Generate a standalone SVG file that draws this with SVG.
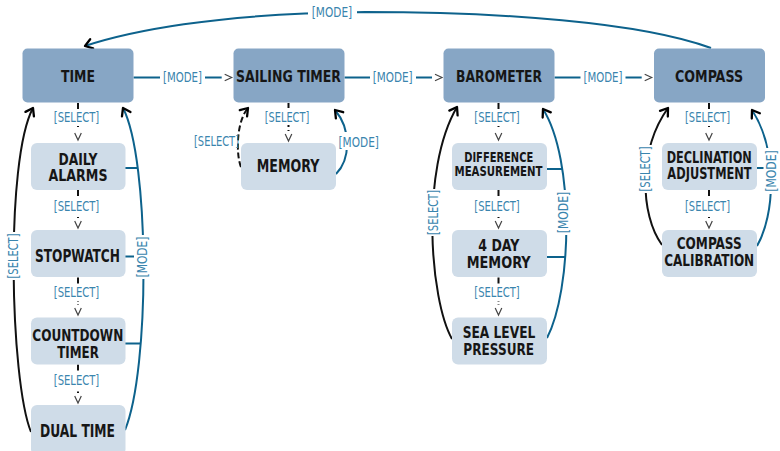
<svg xmlns="http://www.w3.org/2000/svg" width="780" height="451" viewBox="0 0 780 451">
<defs>
<style>
.main{fill:#87a6c5}
.sub{fill:#cfdce8}
.nt{font-family:"Liberation Sans Narrow","DejaVu Sans Condensed","DejaVu Sans",sans-serif;font-weight:bold;fill:#161616;text-anchor:middle}
.lb{font-family:"Liberation Sans Narrow","DejaVu Sans Condensed","DejaVu Sans",sans-serif;font-size:14.5px;fill:#3a85ae;text-anchor:middle}
.bg{fill:#ffffff}
.mode{stroke:#0d628c;stroke-width:2;fill:none}
.sel{stroke:#111111;stroke-width:2;fill:none}
.dash{stroke-dasharray:6 3}
</style>
<marker id="chev" markerUnits="userSpaceOnUse" markerWidth="16" markerHeight="12" viewBox="-6 -6 16 12" refX="-3" refY="0" orient="auto" overflow="visible">
<path d="M0,-3.3 L7,0 L0,3.3" fill="none" stroke="#444" stroke-width="1.2"/>
</marker>
<marker id="arr" markerUnits="userSpaceOnUse" markerWidth="16" markerHeight="16" viewBox="-10 -8 16 16" refX="0" refY="0" orient="auto" overflow="visible">
<path d="M-7,-4.8 L0,0 L-7,4.8" fill="none" stroke="#000" stroke-width="2.3" stroke-linecap="round" stroke-linejoin="round"/>
</marker>
</defs>

<g id="connectors">
<path class="mode" d="M711,48 C640,22 500,12 365,12 L305,13.5 C220,17 140,28 85,46" marker-end="url(#arr)"/>
<path class="mode" d="M133.5,77.5 H221.7" marker-end="url(#chev)"/>
<path class="mode" d="M344.5,77.5 H432" marker-end="url(#chev)"/>
<path class="mode" d="M554.5,77.5 H641.7" marker-end="url(#chev)"/>
<path class="sel dash" d="M78,103 V130" marker-end="url(#chev)"/>
<path class="sel dash" d="M78,190 V218" marker-end="url(#chev)"/>
<path class="sel dash" d="M78,277.5 V305" marker-end="url(#chev)"/>
<path class="sel dash" d="M78,364.5 V393" marker-end="url(#chev)"/>
<path class="sel dash" d="M288.5,103 V131" marker-end="url(#chev)"/>
<path class="sel dash" d="M498.5,103 V130" marker-end="url(#chev)"/>
<path class="sel dash" d="M498.5,190 V218" marker-end="url(#chev)"/>
<path class="sel dash" d="M498.5,277.5 V305" marker-end="url(#chev)"/>
<path class="sel dash" d="M709,103 V130" marker-end="url(#chev)"/>
<path class="sel dash" d="M709,190 V218" marker-end="url(#chev)"/>
<path class="sel" d="M31,432 C10,380 5,160 33,108" marker-end="url(#arr)"/>
<path class="mode" d="M125,430 C150,370 150,160 123,108" marker-end="url(#arr)"/>
<path class="mode" d="M125,168 H137.5"/>
<path class="mode" d="M125,256.5 H141"/>
<path class="mode" d="M125,343.5 H140.5"/>
<path class="sel dash" d="M241,167 C236,155 236,122 248,108" marker-end="url(#arr)"/>
<path class="mode" d="M336,174 C350,160 352,130 335,110" marker-end="url(#arr)"/>
<path class="sel" d="M452,339 C430,300 420,170 457,107" marker-end="url(#arr)"/>
<path class="mode" d="M547,338 C572,290 575,160 543,109" marker-end="url(#arr)"/>
<path class="mode" d="M547,169 H562"/>
<path class="mode" d="M547,257 H565"/>
<path class="sel" d="M662,245 C640,215 638,150 668,108" marker-end="url(#arr)"/>
<path class="mode" d="M757,246 C775,215 778,150 752,110" marker-end="url(#arr)"/>
<path class="mode" d="M757,168 H767"/>

<rect class="bg" x="308" y="3" width="49" height="18"/>
<text class="lb" x="332" y="17" textLength="40.5" lengthAdjust="spacingAndGlyphs">[MODE]</text>
<rect class="bg" x="160" y="68" width="45" height="18"/>
<text class="lb" x="182.5" y="82" textLength="39" lengthAdjust="spacingAndGlyphs">[MODE]</text>
<rect class="bg" x="370" y="68" width="46" height="18"/>
<text class="lb" x="392.7" y="82" textLength="40" lengthAdjust="spacingAndGlyphs">[MODE]</text>
<rect class="bg" x="580.5" y="68" width="45" height="18"/>
<text class="lb" x="603" y="82" textLength="39" lengthAdjust="spacingAndGlyphs">[MODE]</text>

<rect class="bg" x="52" y="109" width="52" height="17"/>
<text class="lb" x="76.5" y="122" textLength="45.5" lengthAdjust="spacingAndGlyphs">[SELECT]</text>
<rect class="bg" x="52" y="197" width="52" height="17"/>
<text class="lb" x="76.5" y="210.5" textLength="45.5" lengthAdjust="spacingAndGlyphs">[SELECT]</text>
<rect class="bg" x="52" y="284" width="52" height="17"/>
<text class="lb" x="76.5" y="297.3" textLength="45.5" lengthAdjust="spacingAndGlyphs">[SELECT]</text>
<rect class="bg" x="52" y="372" width="52" height="17"/>
<text class="lb" x="76.5" y="385.3" textLength="45.5" lengthAdjust="spacingAndGlyphs">[SELECT]</text>

<rect class="bg" x="262" y="108" width="51" height="17"/>
<text class="lb" x="287" y="121.5" textLength="44.5" lengthAdjust="spacingAndGlyphs">[SELECT]</text>
<rect class="bg" x="193" y="131" width="44" height="18"/>
<text class="lb" x="216.5" y="145.5" textLength="45" lengthAdjust="spacingAndGlyphs">[SELECT]</text>
<rect class="bg" x="336" y="132" width="45" height="18"/>
<text class="lb" x="358.7" y="146.5" textLength="40.5" lengthAdjust="spacingAndGlyphs">[MODE]</text>

<rect class="bg" x="472" y="109" width="51" height="17"/>
<text class="lb" x="497" y="122" textLength="45.5" lengthAdjust="spacingAndGlyphs">[SELECT]</text>
<rect class="bg" x="472" y="197" width="51" height="17"/>
<text class="lb" x="497" y="210.5" textLength="45.5" lengthAdjust="spacingAndGlyphs">[SELECT]</text>
<rect class="bg" x="472" y="284" width="51" height="17"/>
<text class="lb" x="497" y="297.3" textLength="45.5" lengthAdjust="spacingAndGlyphs">[SELECT]</text>

<rect class="bg" x="682" y="109" width="51" height="17"/>
<text class="lb" x="707.5" y="122" textLength="45" lengthAdjust="spacingAndGlyphs">[SELECT]</text>
<rect class="bg" x="682" y="197" width="51" height="17"/>
<text class="lb" x="707.5" y="210.5" textLength="45" lengthAdjust="spacingAndGlyphs">[SELECT]</text>

<rect class="bg" x="5.5" y="232" width="15" height="48"/>
<text class="lb" transform="translate(13,256) rotate(-90)" y="5.2" textLength="45" lengthAdjust="spacingAndGlyphs">[SELECT]</text>
<rect class="bg" x="134" y="235" width="15" height="44"/>
<text class="lb" transform="translate(141.5,257) rotate(-90)" y="5.2" textLength="41" lengthAdjust="spacingAndGlyphs">[MODE]</text>
<rect class="bg" x="425.5" y="189" width="15" height="47"/>
<text class="lb" transform="translate(433,212.5) rotate(-90)" y="5.2" textLength="45" lengthAdjust="spacingAndGlyphs">[SELECT]</text>
<rect class="bg" x="555" y="190" width="15" height="45"/>
<text class="lb" transform="translate(562.5,212.5) rotate(-90)" y="5.2" textLength="41.5" lengthAdjust="spacingAndGlyphs">[MODE]</text>
<rect class="bg" x="637.5" y="145" width="15" height="48"/>
<text class="lb" transform="translate(645,169) rotate(-90)" y="5.2" textLength="45" lengthAdjust="spacingAndGlyphs">[SELECT]</text>
<rect class="bg" x="763.5" y="148" width="15" height="46"/>
<text class="lb" transform="translate(771,171) rotate(-90)" y="5.2" textLength="41.5" lengthAdjust="spacingAndGlyphs">[MODE]</text>
</g>

<g id="node-time">
<rect class="main" x="22.5" y="48.5" width="111" height="54" rx="5"/>
<text class="nt" x="78" y="81.5" font-size="16" textLength="34" lengthAdjust="spacingAndGlyphs">TIME</text>
</g>
<g id="node-sailing-timer">
<rect class="main" x="233.5" y="48.5" width="111" height="54" rx="5"/>
<text class="nt" x="288.5" y="81.5" font-size="16" textLength="105" lengthAdjust="spacingAndGlyphs">SAILING TIMER</text>
</g>
<g id="node-barometer">
<rect class="main" x="443.5" y="48.5" width="111" height="54" rx="5"/>
<text class="nt" x="499" y="81.5" font-size="16" textLength="86" lengthAdjust="spacingAndGlyphs">BAROMETER</text>
</g>
<g id="node-compass">
<rect class="main" x="654" y="48.5" width="111" height="54" rx="5"/>
<text class="nt" x="709" y="81.5" font-size="16" textLength="68" lengthAdjust="spacingAndGlyphs">COMPASS</text>
</g>

<g id="node-daily-alarms">
<rect class="sub" x="31" y="143" width="94.5" height="47" rx="6"/>
<text class="nt" x="78" y="164.5" font-size="16.5" textLength="39" lengthAdjust="spacingAndGlyphs">DAILY</text>
<text class="nt" x="78" y="181" font-size="16.5" textLength="59" lengthAdjust="spacingAndGlyphs">ALARMS</text>
</g>
<g id="node-stopwatch">
<rect class="sub" x="31" y="230" width="94.5" height="47" rx="6"/>
<text class="nt" x="77.5" y="262.3" font-size="17" textLength="85" lengthAdjust="spacingAndGlyphs">STOPWATCH</text>
</g>
<g id="node-countdown-timer">
<rect class="sub" x="31" y="317.5" width="94.5" height="47" rx="6"/>
<text class="nt" x="77.8" y="341" font-size="16.5" textLength="91" lengthAdjust="spacingAndGlyphs">COUNTDOWN</text>
<text class="nt" x="78" y="357.7" font-size="16.5" textLength="41.7" lengthAdjust="spacingAndGlyphs">TIMER</text>
</g>
<g id="node-dual-time">
<rect class="sub" x="31" y="405" width="94.5" height="50" rx="6"/>
<text class="nt" x="77.5" y="437.3" font-size="17" textLength="75" lengthAdjust="spacingAndGlyphs">DUAL TIME</text>
</g>
<g id="node-memory">
<rect class="sub" x="241" y="143" width="95" height="47" rx="6"/>
<text class="nt" x="288" y="171.7" font-size="17" textLength="62.6" lengthAdjust="spacingAndGlyphs">MEMORY</text>
</g>
<g id="node-difference-measurement">
<rect class="sub" x="452" y="143" width="95" height="47" rx="6"/>
<text class="nt" x="498.7" y="162.3" font-size="14" textLength="69" lengthAdjust="spacingAndGlyphs">DIFFERENCE</text>
<text class="nt" x="498.5" y="175.7" font-size="14" textLength="88" lengthAdjust="spacingAndGlyphs">MEASUREMENT</text>
</g>
<g id="node-4-day-memory">
<rect class="sub" x="452" y="230" width="95" height="47" rx="6"/>
<text class="nt" x="498.8" y="251" font-size="15.5" textLength="41" lengthAdjust="spacingAndGlyphs">4 DAY</text>
<text class="nt" x="498.7" y="267.7" font-size="15.5" textLength="64" lengthAdjust="spacingAndGlyphs">MEMORY</text>
</g>
<g id="node-sea-level-pressure">
<rect class="sub" x="452" y="317.5" width="95" height="47" rx="6"/>
<text class="nt" x="499" y="338.3" font-size="16" textLength="72.6" lengthAdjust="spacingAndGlyphs">SEA LEVEL</text>
<text class="nt" x="498.7" y="355" font-size="16" textLength="70.7" lengthAdjust="spacingAndGlyphs">PRESSURE</text>
</g>
<g id="node-declination-adjustment">
<rect class="sub" x="662" y="143" width="95" height="47" rx="6"/>
<text class="nt" x="709.2" y="163.3" font-size="15.5" textLength="85" lengthAdjust="spacingAndGlyphs">DECLINATION</text>
<text class="nt" x="709.5" y="179" font-size="15.5" textLength="84.3" lengthAdjust="spacingAndGlyphs">ADJUSTMENT</text>
</g>
<g id="node-compass-calibration">
<rect class="sub" x="662" y="230" width="95" height="47" rx="6"/>
<text class="nt" x="709.2" y="249" font-size="15.5" textLength="65" lengthAdjust="spacingAndGlyphs">COMPASS</text>
<text class="nt" x="709.2" y="265.7" font-size="15.5" textLength="90" lengthAdjust="spacingAndGlyphs">CALIBRATION</text>
</g>
</svg>
